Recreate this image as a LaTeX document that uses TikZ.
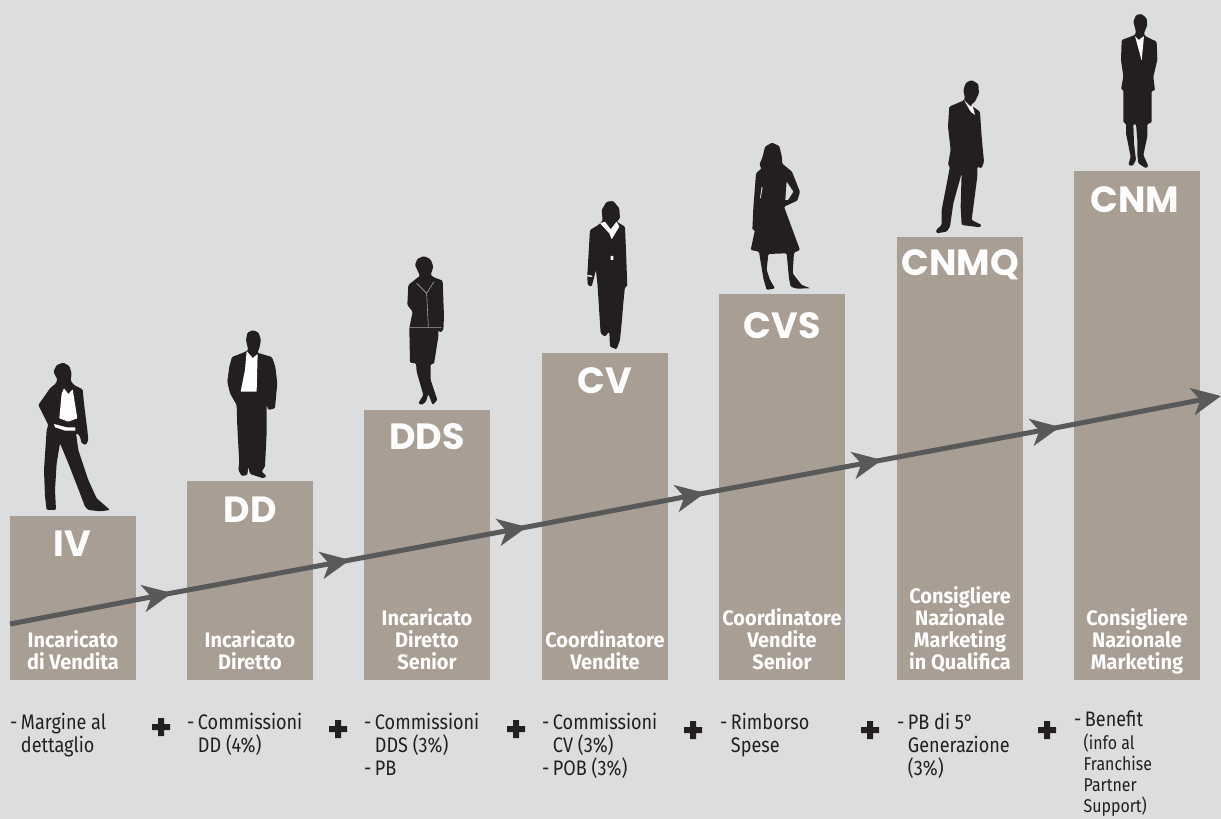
\documentclass[tikz,border=0pt]{standalone}
\usepackage{fontspec}
\usetikzlibrary{arrows.meta}
\newfontfamily\condf[FakeStretch=0.86]{Fira Sans}
\newfontfamily\rolef[FakeStretch=0.95]{Fira Sans}
\newfontfamily\headf{Poppins}
\definecolor{bgc}{HTML}{DCDDDF}
\definecolor{barc}{HTML}{A89E93}
\definecolor{inkc}{HTML}{231F20}
\definecolor{flowc}{HTML}{58595B}
\tikzset{
  barbox/.style={anchor=north west,fill=barc,minimum width=126pt,inner sep=0pt,outer sep=0pt},
  headtxt/.style={text=white,inner sep=0pt,font=\headf\bfseries\fontsize{36.5}{36}\selectfont},
  roletxt/.style={text=white,inner sep=0pt,align=center,anchor=south,text depth=0pt,font=\rolef\bfseries\fontsize{21}{22}\selectfont},
  paytxt/.style={text=inkc,inner sep=0pt,align=left,anchor=north west,font=\condf\fontsize{21}{23}\selectfont},
  flow/.style={draw=flowc,line width=5pt,shorten <=-10pt,-{Stealth[length=29pt,width=27pt,inset=8pt]}},
  person/.style={fill=inkc,rounded corners=1.2pt},
  shirt/.style={fill=white,rounded corners=0.5pt},
  gaphole/.style={fill=bgc,rounded corners=0.5pt},
  plusmark/.style={fill=inkc}
}
\newcommand{\plusat}[2]{\fill[plusmark] (#1-3,#2-9)--(#1+3,#2-9)--(#1+3,#2-3)--(#1+9,#2-3)--(#1+9,#2+3)--(#1+3,#2+3)--(#1+3,#2+9)--(#1-3,#2+9)--(#1-3,#2+3)--(#1-9,#2+3)--(#1-9,#2-3)--(#1-3,#2-3)--cycle;}
\newcommand{\smallpay}{\fontsize{18.5}{21.7}\selectfont}
\begin{document}
\begin{tikzpicture}[x=1pt,y=-1pt]
\useasboundingbox (0,0) rectangle (1221,819);
\fill[bgc] (0,0) rectangle (1221,819);
% bars
\node[barbox,minimum height=164pt] (b1) at (10,516) {};
\node[barbox,minimum height=199pt] (b2) at (187,481) {};
\node[barbox,minimum height=270pt] (b3) at (364,410) {};
\node[barbox,minimum height=327pt] (b4) at (542,353) {};
\node[barbox,minimum height=386pt] (b5) at (719,294) {};
\node[barbox,minimum height=443pt] (b6) at (897,237) {};
\node[barbox,minimum height=509pt] (b7) at (1074,171) {};
% flow
\coordinate (f0) at (10,624);
\coordinate (f1) at (172,593);
\coordinate (f2) at (350,560);
\coordinate (f3) at (527,527);
\coordinate (f4) at (705,493);
\coordinate (f5) at (882,460);
\coordinate (f6) at (1060,427);
\coordinate (f7) at (1221,396);
\draw[flow,shorten <=0pt] (f0)--(f1);
\draw[flow] (f1)--(f2);
\draw[flow] (f2)--(f3);
\draw[flow] (f3)--(f4);
\draw[flow] (f4)--(f5);
\draw[flow] (f5)--(f6);
\draw[flow] (f6)--(f7);
% bar codes
\node[headtxt] (h1) at (72,544) {IV};
\node[headtxt] (h2) at (250,510) {DD};
\node[headtxt] (h3) at (427,437) {DDS};
\node[headtxt] (h4) at (605,381) {CV};
\node[headtxt] (h5) at (782,326) {CVS};
\node[headtxt] (h6) at (960,265) {CNMQ};
\node[headtxt] (h7) at (1135,200) {CNM};
% role names
\node[roletxt] (r1) at (73,670) {Incaricato\\di Vendita};
\node[roletxt] (r2) at (250,670) {Incaricato\\Diretto};
\node[roletxt] (r3) at (427,670) {Incaricato\\Diretto\\Senior};
\node[roletxt] (r4) at (605,670) {Coordinatore\\Vendite};
\node[roletxt] (r5) at (782,670) {Coordinatore\\Vendite\\Senior};
\node[roletxt] (r6) at (960,670) {Consigliere\\Nazionale\\Marketing\\in Qualifica};
\node[roletxt] (r7) at (1137,670) {Consigliere\\Nazionale\\Marketing};
% pay
\node[paytxt] (p1) at (10,713) {-\,Margine al\\\hphantom{-\,}dettaglio};
\node[paytxt] (p2) at (187,713) {-\,Commissioni\\\hphantom{-\,}DD (4\%)};
\node[paytxt] (p3) at (364,713) {-\,Commissioni\\\hphantom{-\,}DDS (3\%)\\-\,PB};
\node[paytxt] (p4) at (542,713) {-\,Commissioni\\\hphantom{-\,}CV (3\%)\\-\,POB (3\%)};
\node[paytxt] (p5) at (720,713) {-\,Rimborso\\\hphantom{-\,}Spese};
\node[paytxt] (p6) at (897,713) {-\,PB di 5°\\\hphantom{-\,}Generazione\\\hphantom{-\,}(3\%)};
\node[paytxt] (p7) at (1074,711) {-\,Benefit\\[0pt]\smallpay\hphantom{-\,}(info al\\[-2pt]\smallpay\hphantom{-\,}Franchise\\[-2pt]\smallpay\hphantom{-\,}Partner\\[-2pt]\smallpay\hphantom{-\,}Support)};
% plus signs
\plusat{161}{727}
\plusat{338}{729}
\plusat{516}{729}
\plusat{693}{730}
\plusat{870}{730}
\plusat{1047}{730}
% IV woman
\begin{scope}[shift={(0,350)},x=0.3333pt,y=-0.3333pt]
\fill[person] (160,65)--(170,45)--(190,38)--(208,48)--(215,70)--(212,92)--(222,105)--(248,118)--(252,160)--(262,240)--(265,270)--(258,285)--(245,280)--(240,260)--(232,250)--(228,250)--(235,300)--(265,390)--(290,445)--(330,480)--(300,484)--(265,480)--(255,470)--(240,430)--(205,340)--(180,280)--(170,340)--(165,420)--(168,480)--(140,480)--(135,440)--(132,360)--(140,240)--(145,225)--(130,195)--(115,165)--(150,115)--(168,100)--(172,88)--cycle;
\fill[shirt] (192,115)--(205,132)--(218,118)--(232,205)--(205,215)--(178,205)--(185,130)--cycle;
\fill[shirt] (162,222)--(200,232)--(226,232)--(226,242)--(195,242)--(165,232)--cycle;
% DD man
\fill[person] (738,-30)--(742,-52)--(759,-60)--(776,-52)--(783,-30)--(778,-5)--(772,8)--(795,15)--(816,21)--(826,50)--(832,100)--(825,175)--(805,180)--(800,165)--(800,250)--(795,350)--(785,365)--(800,378)--(790,385)--(750,372)--(745,350)--(742,375)--(725,378)--(715,360)--(718,340)--(712,230)--(710,165)--(690,130)--(682,95)--(688,50)--(696,21)--(730,8)--(745,0)--(742,-12)--cycle;
\fill[shirt] (740,3)--(758,24)--(773,12)--(770,125)--(722,125)--(735,60)--cycle;
\end{scope}
% DDS and CV women
\begin{scope}[shift={(360,190)},x=0.3333pt,y=-0.3333pt]
\fill[person] (165,225)--(172,207)--(192,198)--(212,208)--(220,230)--(212,255)--(222,262)--(248,272)--(252,380)--(250,420)--(240,428)--(235,420)--(235,440)--(222,522)--(212,522)--(212,570)--(232,630)--(218,645)--(205,612)--(198,635)--(185,645)--(175,640)--(190,615)--(170,545)--(168,520)--(150,518)--(148,415)--(158,365)--(142,345)--(145,285)--(170,265)--(180,258)--cycle;
\draw[bgc!70!inkc,line width=0.6pt] (170,280)--(200,310)--(222,275) (200,310)--(205,410) (150,412)--(245,412);
\fill[person] (725,60)--(740,35)--(760,33)--(778,55)--(780,85)--(770,95)--(795,110)--(798,180)--(802,290)--(795,290)--(790,340)--(785,400)--(780,450)--(770,478)--(750,470)--(748,425)--(735,440)--(722,430)--(720,400)--(713,290)--(708,240)--(695,290)--(683,285)--(682,255)--(690,120)--(715,105)--(728,92)--cycle;
\fill[shirt] (720,100)--(735,95)--(752,118)--(770,95)--(778,110)--(755,148)--(748,130)--cycle;
\fill[shirt] (682,255)--(697,257)--(697,261)--(682,259)--cycle;
\fill[shirt] (752,198)--(760,198)--(760,210)--(752,210)--cycle;
\end{scope}
% CVS woman and CNMQ man
\begin{scope}[shift={(720,70)},x=0.3333pt,y=-0.3333pt]
\fill[person] (128,260)--(135,230)--(156,218)--(178,228)--(186,262)--(186,280)--(200,292)--(216,305)--(240,366)--(232,392)--(201,406)--(192,410)--(240,540)--(222,548)--(218,610)--(245,645)--(272,655)--(230,656)--(212,650)--(207,625)--(200,550)--(145,552)--(140,600)--(150,630)--(165,655)--(140,660)--(130,625)--(117,545)--(92,540)--(105,480)--(97,480)--(100,415)--(108,310)--(125,295)--(118,285)--cycle;
\fill[gaphole] (200,335)--(220,365)--(204,390)--(196,390)--cycle;
\fill[gaphole] (125,350)--(128,352)--(122,385)--(120,385)--cycle;
\fill[person] (730,60)--(738,38)--(755,30)--(775,42)--(777,70)--(765,95)--(752,105)--(780,125)--(785,200)--(792,275)--(785,295)--(772,290)--(772,320)--(755,450)--(785,465)--(780,472)--(725,465)--(722,410)--(725,310)--(700,400)--(690,470)--(680,485)--(650,490)--(648,480)--(665,465)--(665,420)--(690,290)--(684,285)--(692,240)--(684,170)--(688,110)--(730,92)--(735,85)--cycle;
\fill[shirt] (732,90)--(750,108)--(758,108)--(765,135)--(752,125)--cycle;
\end{scope}
% CNM woman
\begin{scope}[shift={(1060,0)},x=0.3333pt,y=-0.3333pt]
\fill[person] (220,65)--(228,45)--(245,42)--(260,55)--(262,75)--(252,100)--(255,108)--(290,125)--(292,180)--(280,230)--(285,272)--(275,272)--(275,368)--(262,372)--(262,410)--(250,465)--(265,498)--(258,505)--(235,490)--(232,465)--(232,420)--(228,372)--(220,372)--(222,430)--(228,480)--(218,498)--(205,495)--(212,470)--(198,400)--(198,370)--(190,368)--(190,270)--(183,268)--(190,230)--(183,180)--(185,120)--(225,105)--(228,95)--cycle;
\fill[shirt] (225,108)--(236,120)--(252,108)--(245,182)--cycle;
\end{scope}
\end{tikzpicture}
\end{document}
